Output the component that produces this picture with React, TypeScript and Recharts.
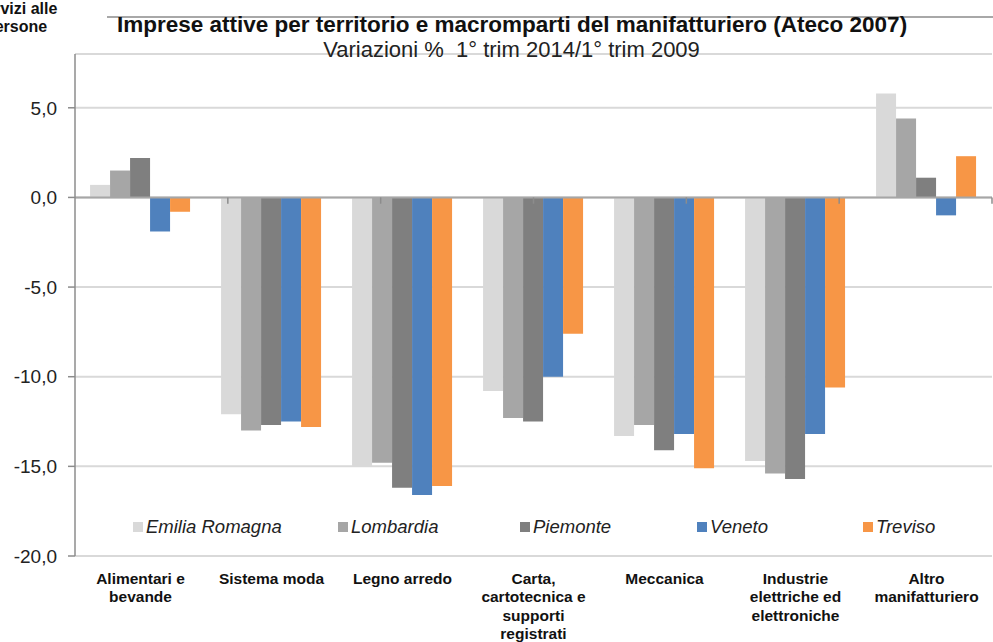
import React from 'react';
import { BarChart, Bar, XAxis, YAxis, CartesianGrid, ReferenceLine } from 'recharts';

const CATEGORIES = [
  'Alimentari e\nbevande',
  'Sistema moda',
  'Legno arredo',
  'Carta,\ncartotecnica e\nsupporti\nregistrati',
  'Meccanica',
  'Industrie\nelettriche ed\nelettroniche',
  'Altro\nmanifatturiero',
];

const EMILIA_ROMAGNA = [0.7, -12.1, -15.0, -10.8, -13.3, -14.7, 5.8];
const LOMBARDIA = [1.5, -13.0, -14.8, -12.3, -12.7, -15.4, 4.4];
const PIEMONTE = [2.2, -12.7, -16.2, -12.5, -14.1, -15.7, 1.1];
const VENETO = [-1.9, -12.5, -16.6, -10.0, -13.2, -13.2, -1.0];
const TREVISO = [-0.8, -12.8, -16.1, -7.6, -15.1, -10.6, 2.3];

const Y_TICKS = [-20, -15, -10, -5, 0, 5];

const SERIES = [
  { key: 'emilia', name: 'Emilia Romagna', color: '#d9d9d9', values: EMILIA_ROMAGNA },
  { key: 'lombardia', name: 'Lombardia', color: '#a6a6a6', values: LOMBARDIA },
  { key: 'piemonte', name: 'Piemonte', color: '#7f7f7f', values: PIEMONTE },
  { key: 'veneto', name: 'Veneto', color: '#4f81bd', values: VENETO },
  { key: 'treviso', name: 'Treviso', color: '#f79646', values: TREVISO },
];

const data = CATEGORIES.map((name, i) => {
  const row: Record<string, string | number> = { name };
  SERIES.forEach(s => { row[s.key] = s.values[i]; });
  return row;
});

// boundaries between categories, for the little ticks on the zero line
const boundaries = CATEGORIES.slice(1).map((_, i) => i + 1);

const FONT = '"Liberation Sans", Arial, sans-serif';

const LEGEND_LEFT = [133, 338, 520, 697, 863];

const fmt = (v: number) => v.toFixed(1).replace('.', ',');

const CategoryTick = (props: any) => {
  const { x, y, payload } = props;
  const lines = String(payload.value).split('\n');
  return (
    <text x={x} y={y} textAnchor="middle" fill="#111" fontFamily={FONT} fontSize={15.5} fontWeight="bold">
      {lines.map((l, i) => (
        <tspan key={i} x={x} dy={i === 0 ? -10.5 : 18.5}>{l}</tspan>
      ))}
    </text>
  );
};

export default function App() {
  return (
    <div style={{ position: 'absolute', left: 0, top: 0, width: 993, height: 642, overflow: 'hidden', background: '#fff', fontFamily: FONT }}>
      <BarChart
        width={993}
        height={642}
        data={data}
        margin={{ top: 54, right: 1, bottom: 0, left: 0 }}
        barCategoryGap="11.5%"
        barGap={0}
      >
        <CartesianGrid vertical={false} stroke="#d9d9d9" strokeWidth={2} />
        <XAxis xAxisId="cat" dataKey="name" axisLine={false} tickLine={false} interval={0} height={86} tick={<CategoryTick />} />
        <XAxis xAxisId="b" type="number" domain={[0, 7]} hide />
        <YAxis
          domain={[-20, 8]}
          ticks={Y_TICKS}
          width={75}
          tickSize={7}
          tickMargin={11}
          tickFormatter={fmt}
          axisLine={{ stroke: '#8c8c8c', strokeWidth: 1.5 }}
          tickLine={{ stroke: '#8c8c8c', strokeWidth: 1.5 }}
          tick={{ fill: '#222', fontSize: 19, fontFamily: FONT }}
        />
        {SERIES.map(s => (
          <Bar key={s.key} xAxisId="cat" dataKey={s.key} name={s.name} fill={s.color} isAnimationActive={false} />
        ))}
        <ReferenceLine xAxisId="cat" y={0} stroke="#a6a6a6" strokeWidth={2} />
        {boundaries.map(b => (
          <ReferenceLine
            key={b}
            xAxisId="b"
            segment={[{ x: b, y: 0 }, { x: b, y: -0.35 }]}
            stroke="#8c8c8c"
            strokeWidth={1.5}
          />
        ))}
      </BarChart>

      {/* legend sits inside the plot, above the -20 line */}
      {SERIES.map((s, i) => (
        <div key={s.key} style={{ position: 'absolute', left: LEGEND_LEFT[i], top: 515, height: 24, display: 'flex', alignItems: 'center' }}>
          <span style={{ width: 10, height: 10, background: s.color, display: 'inline-block', marginRight: 3 }} />
          <span style={{ fontStyle: 'italic', fontSize: 18.5, color: '#222' }}>{s.name}</span>
        </div>
      ))}

      <div style={{ position: 'absolute', left: 107, right: 0, top: 16, height: 2, background: '#a8a8a8' }} />
      <div style={{ position: 'absolute', left: -34, top: 0, width: 100, textAlign: 'center', fontWeight: 'bold', fontSize: 16, lineHeight: '18px', color: '#111' }}>
        Servizi alle<br />persone
      </div>
      <div style={{ position: 'absolute', left: 0, width: 1024, top: 11, lineHeight: '28px', textAlign: 'center', fontWeight: 'bold', fontSize: 22.5, color: '#111', whiteSpace: 'nowrap' }}>
        Imprese attive per territorio e macromparti del manifatturiero (Ateco 2007)
      </div>
      <div style={{ position: 'absolute', left: 0, width: 1023, top: 36, lineHeight: '28px', textAlign: 'center', fontSize: 22, color: '#222', whiteSpace: 'nowrap' }}>
        Variazioni %&nbsp; 1° trim 2014/1° trim 2009
      </div>
    </div>
  );
}
